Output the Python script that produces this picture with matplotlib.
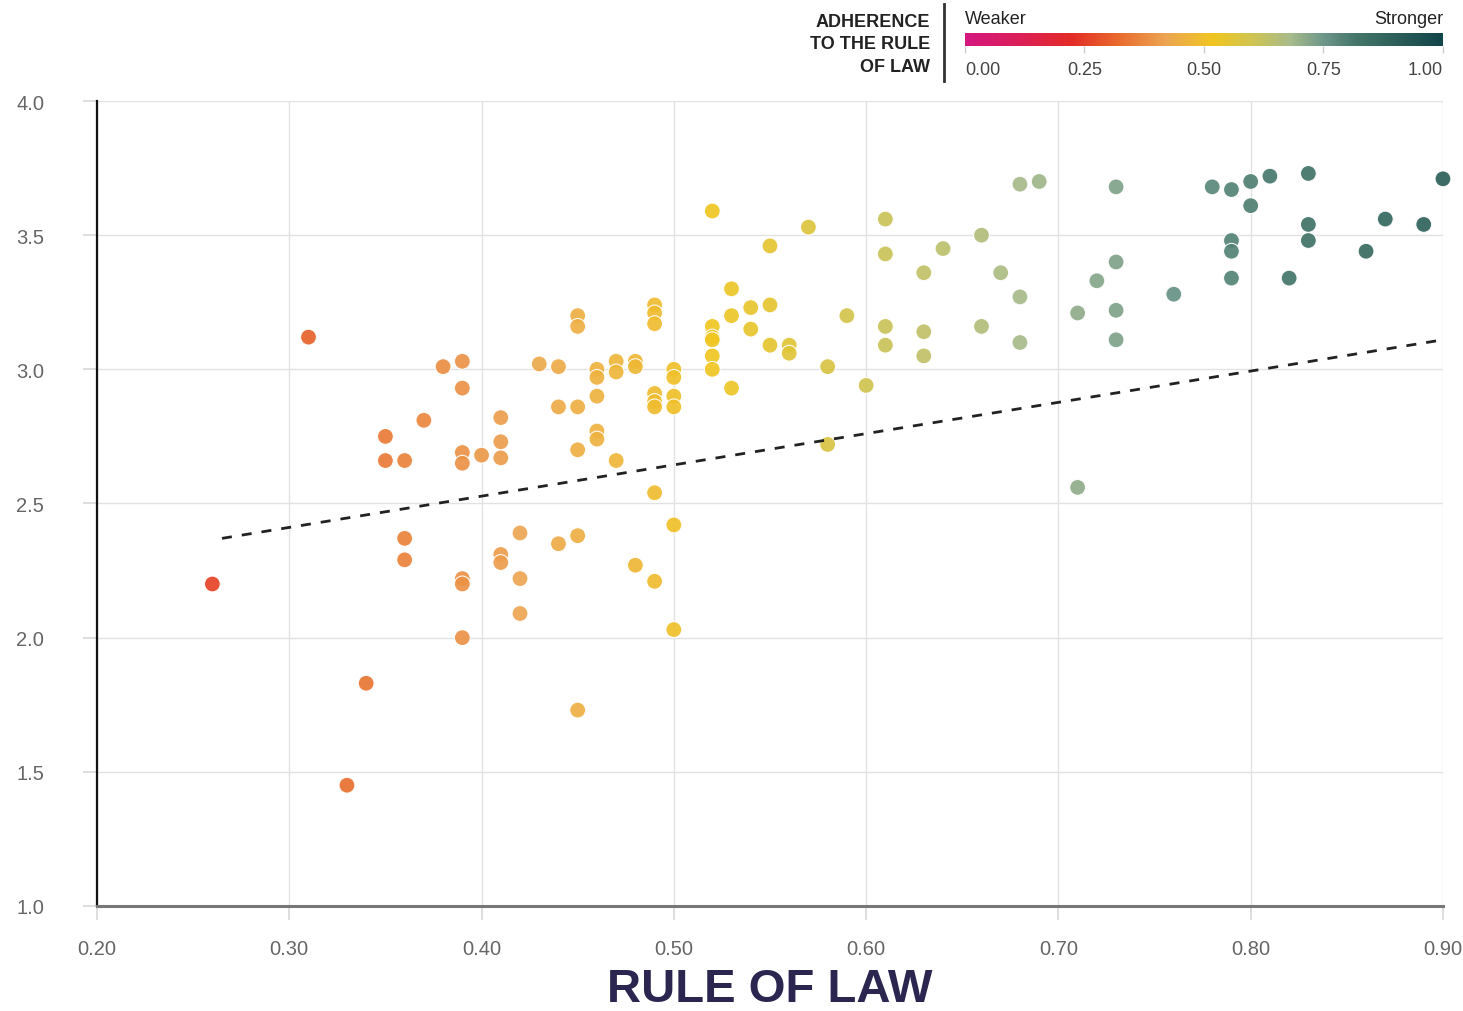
import matplotlib

matplotlib.use("Agg")
import matplotlib.pyplot as plt
import numpy as np
from matplotlib import font_manager
from matplotlib.colors import LinearSegmentedColormap
from matplotlib.cm import ScalarMappable
from matplotlib.lines import Line2D

# Rule of law score (x) vs. outcome index (y), one point per country
rule_of_law = [
    0.26, 0.31, 0.33, 0.34, 0.35, 0.35, 0.36, 0.36, 0.36, 0.37,
    0.38, 0.39, 0.39, 0.39, 0.39, 0.39, 0.39, 0.39, 0.40, 0.41,
    0.41, 0.41, 0.41, 0.41, 0.42, 0.42, 0.42, 0.43, 0.44, 0.44,
    0.44, 0.45, 0.45, 0.45, 0.45, 0.45, 0.45, 0.46, 0.46, 0.46,
    0.46, 0.46, 0.47, 0.47, 0.47, 0.48, 0.48, 0.48, 0.49, 0.49,
    0.49, 0.49, 0.49, 0.49, 0.49, 0.49, 0.50, 0.50, 0.50, 0.50,
    0.50, 0.50, 0.52, 0.52, 0.52, 0.52, 0.52, 0.52, 0.53, 0.53,
    0.53, 0.54, 0.54, 0.55, 0.55, 0.55, 0.56, 0.56, 0.57, 0.58,
    0.58, 0.59, 0.60, 0.61, 0.61, 0.61, 0.61, 0.63, 0.63, 0.63,
    0.64, 0.66, 0.66, 0.67, 0.68, 0.68, 0.68, 0.69, 0.71, 0.71,
    0.72, 0.73, 0.73, 0.73, 0.73, 0.76, 0.78, 0.79, 0.79, 0.79,
    0.79, 0.80, 0.80, 0.81, 0.82, 0.83, 0.83, 0.83, 0.86, 0.87,
    0.89, 0.90,
]
outcome = [
    2.20, 3.12, 1.45, 1.83, 2.75, 2.66, 2.66, 2.37, 2.29, 2.81,
    3.01, 3.03, 2.93, 2.69, 2.65, 2.22, 2.20, 2.00, 2.68, 2.82,
    2.73, 2.67, 2.31, 2.28, 2.39, 2.22, 2.09, 3.02, 3.01, 2.86,
    2.35, 3.20, 3.16, 2.86, 2.70, 2.38, 1.73, 3.00, 2.97, 2.90,
    2.77, 2.74, 3.03, 2.99, 2.66, 3.03, 3.01, 2.27, 3.24, 3.21,
    3.17, 2.91, 2.88, 2.86, 2.54, 2.21, 3.00, 2.97, 2.90, 2.86,
    2.42, 2.03, 3.59, 3.16, 3.12, 3.11, 3.05, 3.00, 3.30, 3.20,
    2.93, 3.23, 3.15, 3.46, 3.24, 3.09, 3.09, 3.06, 3.53, 3.01,
    2.72, 3.20, 2.94, 3.56, 3.43, 3.16, 3.09, 3.36, 3.14, 3.05,
    3.45, 3.50, 3.16, 3.36, 3.69, 3.27, 3.10, 3.70, 3.21, 2.56,
    3.33, 3.68, 3.40, 3.22, 3.11, 3.28, 3.68, 3.67, 3.48, 3.44,
    3.34, 3.70, 3.61, 3.72, 3.34, 3.73, 3.54, 3.48, 3.44, 3.56,
    3.54, 3.71,
]

# trend line as drawn in the source chart (start / end)
trend_x = [0.265, 0.90]
trend_y = [2.37, 3.11]

x_ticks = [0.20, 0.30, 0.40, 0.50, 0.60, 0.70, 0.80, 0.90]
y_ticks = [1.0, 1.5, 2.0, 2.5, 3.0, 3.5, 4.0]
legend_ticks = [0.00, 0.25, 0.50, 0.75, 1.00]

# weaker -> stronger adherence palette
cmap_stops = [0.00, 0.12, 0.22, 0.32, 0.42, 0.52, 0.60, 0.68, 0.75, 0.82, 1.00]
cmap_colors = [
    "#d4177f", "#dc1f55", "#e32a26", "#e86a2c", "#eca552",
    "#f0c620", "#d0c450", "#a8bb8a", "#6e978a", "#437568", "#114549",
]

available = {f.name for f in font_manager.fontManager.ttflist}
NARROW = "Liberation Sans Narrow" if "Liberation Sans Narrow" in available else "Liberation Sans"
plt.rcParams["font.family"] = ["Liberation Sans", "DejaVu Sans"]

cmap = LinearSegmentedColormap.from_list("rol", list(zip(cmap_stops, cmap_colors)))

x = np.array(rule_of_law)
y = np.array(outcome)

fig = plt.figure(figsize=(14.63, 10.12), dpi=100)
ax = fig.add_axes([0.0663, 0.1038, 0.9200, 0.7954])

ax.grid(True, color="#e2e2e2", linewidth=1.0, zorder=0)
ax.set_axisbelow(True)

ax.scatter(x, y, c=x, cmap=cmap, vmin=0, vmax=1, s=130, alpha=0.92,
           edgecolors="white", linewidths=0.8, zorder=3, clip_on=False)

ax.plot(trend_x, trend_y, color="#222222", linewidth=2.0,
        dashes=(3.6, 3.6), zorder=4, clip_on=False)

ax.set_xlim(0.20, 0.90)
ax.set_ylim(1.0, 4.0)
ax.set_xticks(x_ticks)
ax.set_xticklabels([f"{v:.2f}" for v in x_ticks])
ax.set_yticks(y_ticks)
ax.set_yticklabels([f"{v:.1f}" for v in y_ticks])
ax.tick_params(axis="both", colors="#d8d8d8", labelcolor="#666666",
               labelsize=14.5, length=10, width=1.2)
ax.tick_params(axis="x", pad=14)
ax.tick_params(axis="y", pad=48)
for lab in ax.get_yticklabels():
    lab.set_horizontalalignment("left")

for side in ("top", "right"):
    ax.spines[side].set_visible(False)
ax.spines["left"].set_color("#111111")
ax.spines["left"].set_linewidth(1.6)
ax.spines["bottom"].set_color("#777777")
ax.spines["bottom"].set_linewidth(2.2)

ax.set_xlabel("RULE OF LAW", fontsize=34, fontweight="bold", color="#2b2650",
              labelpad=6)

# colour legend
cax = fig.add_axes([0.6596, 0.9536, 0.3267, 0.0128])
cb = fig.colorbar(ScalarMappable(cmap=cmap), cax=cax, orientation="horizontal")
cb.outline.set_visible(False)
cb.set_ticks(legend_ticks)
cb.set_ticklabels([f"{v:.2f}" for v in legend_ticks])
cax.tick_params(axis="x", colors="#cccccc", labelcolor="#444444", length=5,
                width=1, labelsize=13, pad=6)
for lab in cax.get_xticklabels():
    lab.set_fontfamily(NARROW)
labs = cax.get_xticklabels()
labs[0].set_horizontalalignment("left")
labs[-1].set_horizontalalignment("right")

fig.text(0.6596, 0.972, "Weaker", fontsize=13, color="#222222",
         family=NARROW, ha="left", va="bottom")
fig.text(0.9863, 0.972, "Stronger", fontsize=13, color="#222222",
         family=NARROW, ha="right", va="bottom")
fig.text(0.6357, 0.986, "ADHERENCE\nTO THE RULE\nOF LAW", fontsize=13,
         fontweight="bold", color="#222222", family=NARROW, ha="right",
         va="top", linespacing=1.4)
fig.add_artist(Line2D([0.6453, 0.6453], [0.919, 0.995], color="#333333",
                      linewidth=2.0, transform=fig.transFigure))

fig.savefig("out.png", dpi=100)
